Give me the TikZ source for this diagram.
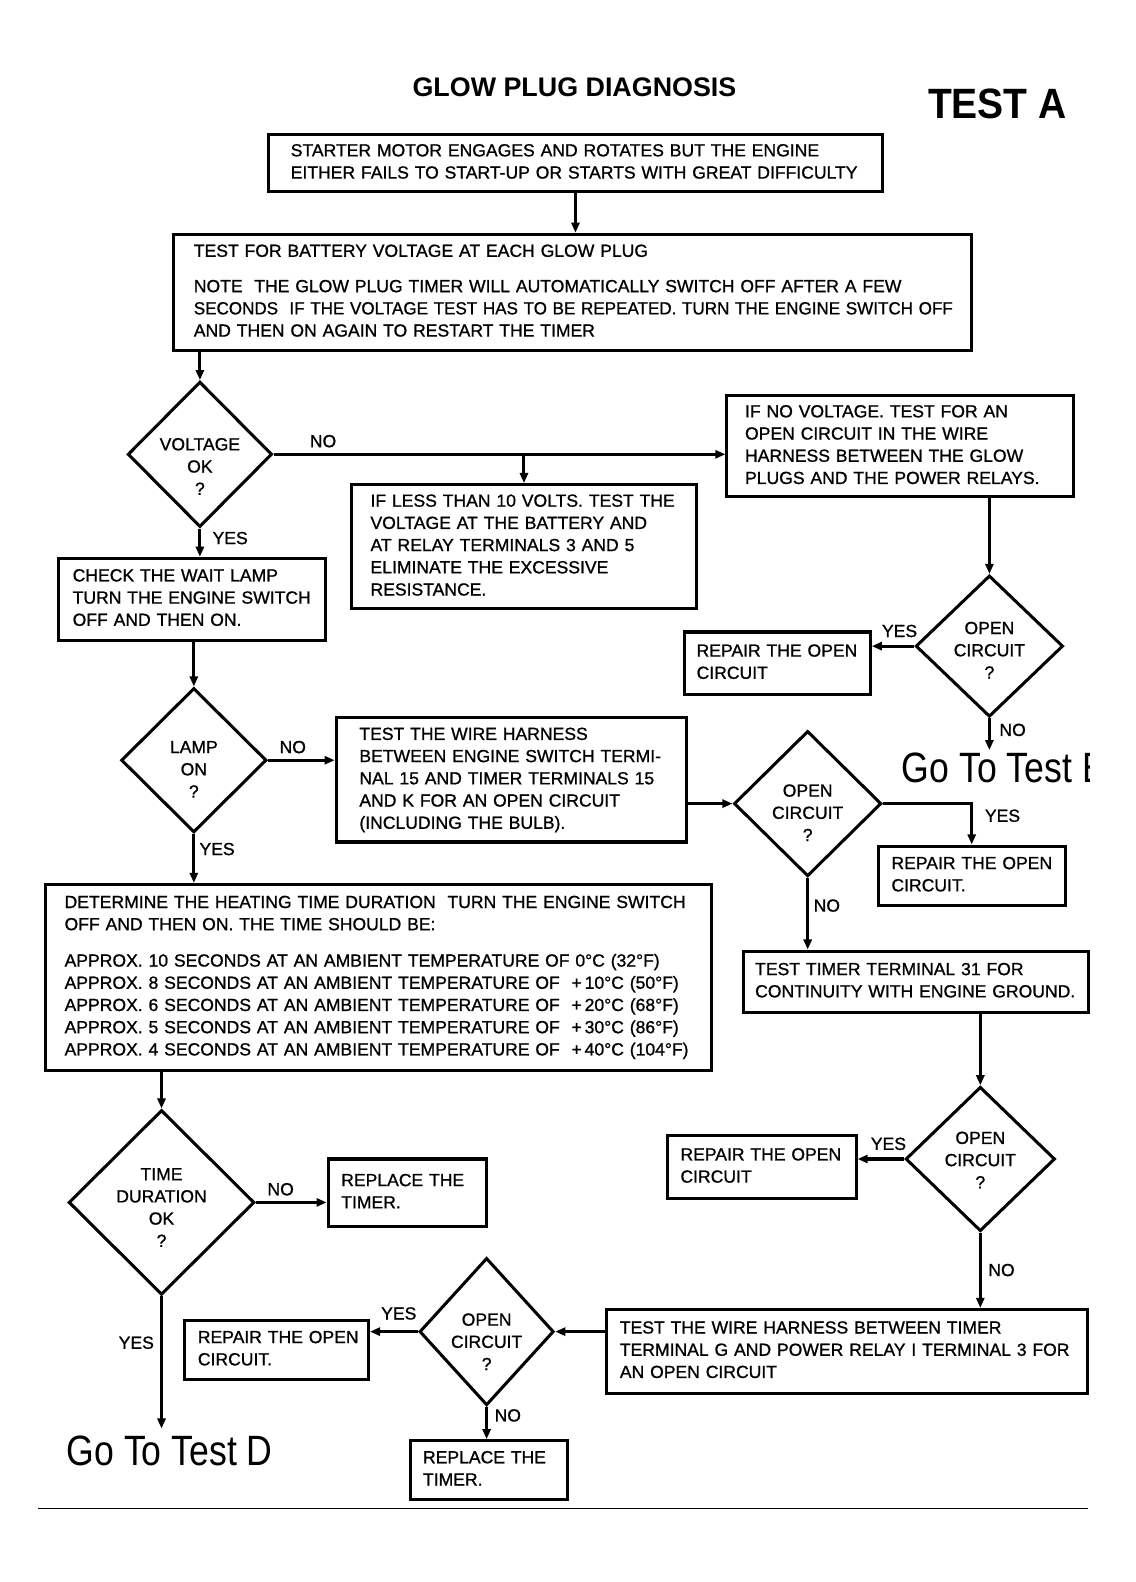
\documentclass[tikz,border=0pt]{standalone}
\usepackage{fontspec}
\setmainfont{Liberation Sans}
\newfontfamily\bodyfont[FakeBold=1]{Liberation Sans}
\usepackage{graphicx}
\usetikzlibrary{shapes.geometric,arrows.meta}
\newcommand{\txtfont}{\bodyfont\fontsize{8.7}{11}\selectfont}
\newcommand{\sqz}[1]{\scalebox{0.97}[1]{#1}}
\newcommand{\tl}[1]{\begin{tabular}{@{}l@{}}#1\end{tabular}}
\begin{document}
\begin{tikzpicture}[x=0.5pt,y=-0.5pt,
  box/.style={draw, line width=1.5pt, rectangle, align=left, inner ysep=0pt, font=\txtfont},
  dia/.style={draw, diamond, line width=1.5pt, inner sep=0pt},
  dlbl/.style={font=\txtfont, align=center, inner sep=0pt},
  arr/.style={line width=1.5pt, -{Triangle[length=5pt,width=4pt]}},
  lbl/.style={font=\txtfont, inner sep=0pt},
  goto/.style={font=\fontsize{21}{24}\selectfont, inner sep=0pt}]

% titles
\node[font=\bfseries\fontsize{13.3}{15}\selectfont, inner sep=0pt] (title) at (569,86) {GLOW PLUG DIAGNOSIS};
\node[font=\bfseries\fontsize{21}{24}\selectfont, inner sep=0pt] (testa) at (988,103) {\scalebox{0.92}[1]{TEST A}};

% boxes
\node[box, text width=282pt, inner xsep=11pt, minimum height=28.5pt] (b1) at (570,161.5)
 {\tl{STARTER MOTOR ENGAGES AND ROTATES BUT THE ENGINE\\EITHER FAILS TO START-UP OR STARTS WITH GREAT DIFFICULTY}};
\node[box, text width=375pt, inner xsep=10pt, minimum height=57.5pt] (b2) at (567,289.5)
 {\tl{TEST FOR BATTERY VOLTAGE AT EACH GLOW PLUG\\[6.5pt]
  NOTE\ \ THE GLOW PLUG TIMER WILL AUTOMATICALLY SWITCH OFF AFTER A FEW\\
  \sqz{SECONDS\ \ IF THE VOLTAGE TEST HAS TO BE REPEATED. TURN THE ENGINE SWITCH OFF}\\
  AND THEN ON AGAIN TO RESTART THE TIMER}};
\node[box, text width=153.5pt, inner xsep=9pt, minimum height=50pt] (ifno) at (891.5,442)
 {\tl{IF NO VOLTAGE. TEST FOR AN\\OPEN CIRCUIT IN THE WIRE\\HARNESS BETWEEN THE GLOW\\PLUGS AND THE POWER RELAYS.}};
\node[box, text width=152pt, inner xsep=9.5pt, minimum height=61.5pt] (ifless) at (519,541.5)
 {\tl{IF LESS THAN 10 VOLTS. TEST THE\\VOLTAGE AT THE BATTERY AND\\AT RELAY TERMINALS 3 AND 5\\ELIMINATE THE EXCESSIVE\\RESISTANCE.}};
\node[box, text width=118pt, inner xsep=7pt, minimum height=40.5pt] (check) at (190,593.5)
 {\tl{CHECK THE WAIT LAMP\\TURN THE ENGINE SWITCH\\OFF AND THEN ON.}};
\node[box, text width=80pt, inner xsep=6pt, minimum height=31pt] (rep1) at (770,657)
 {\tl{REPAIR THE OPEN\\CIRCUIT}};
\node[box, text width=150.5pt, inner xsep=11.5pt, minimum height=61.5pt] (wire1) at (506.5,772.5)
 {\tl{TEST THE WIRE HARNESS\\BETWEEN ENGINE SWITCH TERMI-\\NAL 15 AND TIMER TERMINALS 15\\AND K FOR AN OPEN CIRCUIT\\(INCLUDING THE BULB).}};
\node[box, text width=79.5pt, inner xsep=6.5pt, minimum height=29.5pt] (rep2) at (962.5,867.5)
 {\tl{REPAIR THE OPEN\\CIRCUIT.}};
\node[box, text width=159pt, inner xsep=6pt, minimum height=30.5pt] (t31) at (907,972.5)
 {\tl{TEST TIMER TERMINAL 31 FOR\\CONTINUITY WITH ENGINE GROUND.}};
\node[box, text width=311pt, inner xsep=9.5pt, minimum height=92pt] (det) at (375,968)
 {\tl{DETERMINE THE HEATING TIME DURATION\ \ TURN THE ENGINE SWITCH\\
  OFF AND THEN ON. THE TIME SHOULD BE:\\[7pt]
  APPROX. 10 SECONDS AT AN AMBIENT TEMPERATURE OF 0\textdegree C (32\textdegree F)\\
  APPROX. 8 SECONDS AT AN AMBIENT TEMPERATURE OF\ \ +\,10\textdegree C (50\textdegree F)\\
  APPROX. 6 SECONDS AT AN AMBIENT TEMPERATURE OF\ \ +\,20\textdegree C (68\textdegree F)\\
  APPROX. 5 SECONDS AT AN AMBIENT TEMPERATURE OF\ \ +\,30\textdegree C (86\textdegree F)\\
  APPROX. 4 SECONDS AT AN AMBIENT TEMPERATURE OF\ \ +\,40\textdegree C (104\textdegree F)}};
\node[box, text width=65.5pt, inner xsep=6.5pt, minimum height=33.5pt] (repl1) at (403.5,1181.5)
 {\tl{REPLACE THE\\TIMER.}};
\node[box, text width=80.5pt, inner xsep=6.5pt, minimum height=31pt] (rep3) at (754.5,1156)
 {\tl{REPAIR THE OPEN\\CIRCUIT}};
\node[box, text width=225pt, inner xsep=6.5pt, minimum height=41.5pt] (wireg) at (839,1338.5)
 {\tl{TEST THE WIRE HARNESS BETWEEN TIMER\\TERMINAL G AND POWER RELAY I TERMINAL 3 FOR\\AN OPEN CIRCUIT}};
\node[box, text width=78pt, inner xsep=6.5pt, minimum height=29pt] (rep4) at (274,1337)
 {\tl{REPAIR THE OPEN\\CIRCUIT.}};
\node[box, text width=65.5pt, inner xsep=6pt, minimum height=29pt] (repl2) at (484.5,1456)
 {\tl{REPLACE THE\\TIMER.}};

% diamonds
\node[dia, minimum width=71.5pt, minimum height=72pt, label={[dlbl, yshift=-6pt]center:VOLTAGE\\OK\\?}] (d1) at (198,450) {};
\node[dia, minimum width=72pt, minimum height=71.5pt, label={[dlbl, yshift=-4.5pt]center:LAMP\\ON\\?}] (d2) at (192,753) {};
\node[dia, minimum width=73pt, minimum height=70pt, label={[dlbl, yshift=-2pt]center:OPEN\\CIRCUIT\\?}] (d3) at (980,640) {};
\node[dia, minimum width=73pt, minimum height=72pt, label={[dlbl, yshift=-4.5pt]center:OPEN\\CIRCUIT\\?}] (d4) at (800,796) {};
\node[dia, minimum width=92pt, minimum height=91.5pt, label={[dlbl, yshift=-2.5pt]center:TIME\\DURATION\\OK\\?}] (d5) at (160,1191) {};
\node[dia, minimum width=74pt, minimum height=71.5pt, label={[dlbl, yshift=-0.5pt]center:OPEN\\CIRCUIT\\?}] (d6) at (971,1148) {};
\node[dia, minimum width=66.5pt, minimum height=73pt, label={[dlbl, yshift=-5pt]center:OPEN\\CIRCUIT\\?}] (d7) at (482,1319) {};

% free ends and go-to texts
\coordinate (endE) at (980,743);
\coordinate (endD) at (160,1415);
\begin{scope}
\clip (880,730) rectangle (1079,800);
\node[goto, anchor=west] (gotoE) at (893,761) {\scalebox{0.84}[1]{Go To Test E}};
\end{scope}
\node[goto] (gotoD) at (168,1437) {\scalebox{0.84}[1]{Go To Test D}};

% connectors
\draw[arr] (b1.south) -- (b1.south |- b2.north);
\draw[arr] (d1.north |- b2.south) -- (d1.north);
\draw[arr] (d1.east) -- (d1.east -| ifno.west);
\draw[arr] (ifless.north |- d1.east) -- (ifless.north);
\draw[arr] (d1.south) -- (d1.south |- check.north);
\draw[arr] (d2.north |- check.south) -- (d2.north);
\draw[arr] (d3.north |- ifno.south) -- (d3.north);
\draw[arr] (d3.west) -- (d3.west -| rep1.east);
\draw[arr] (d3.south) -- (endE);
\draw[arr] (d2.east) -- (d2.east -| wire1.west);
\draw[arr] (d4.west -| wire1.east) -- (d4.west);
\draw[arr] (d4.east) -| (rep2.north);
\draw[arr] (d4.south) -- (d4.south |- t31.north);
\draw[arr] (d2.south) -- (d2.south |- det.north);
\draw[arr] (d5.north |- det.south) -- (d5.north);
\draw[arr] (d5.east) -- (d5.east -| repl1.west);
\draw[arr] (d5.south) -- (endD);
\draw[arr] (d6.north |- t31.south) -- (d6.north);
\draw[arr] (d6.west) -- (d6.west -| rep3.east);
\draw[arr] (d6.south) -- (d6.south |- wireg.north);
\draw[arr] (d7.east -| wireg.west) -- (d7.east);
\draw[arr] (d7.west) -- (d7.west -| rep4.east);
\draw[arr] (d7.south) -- (d7.south |- repl2.north);

% labels
\node[lbl] (l1) at (320,437) {NO};
\node[lbl] (l2) at (228,533) {YES};
\node[lbl] (l3) at (290,740) {NO};
\node[lbl] (l4) at (215,841) {YES};
\node[lbl] (l5) at (891,625) {YES};
\node[lbl] (l6) at (1003,723) {NO};
\node[lbl] (l7) at (993,808) {YES};
\node[lbl] (l8) at (819,897) {NO};
\node[lbl] (l9) at (278,1178) {NO};
\node[lbl] (l10) at (135,1330) {YES};
\node[lbl] (l11) at (880,1133) {YES};
\node[lbl] (l12) at (992,1258) {NO};
\node[lbl] (l13) at (395,1301) {YES};
\node[lbl] (l14) at (503,1402) {NO};

% bottom rule
\coordinate (r1) at (38,1494);
\coordinate (r2) at (1078,1494);
\draw[line width=0.8pt] (r1) -- (r2);
\pgfresetboundingbox
\useasboundingbox (0,0) rectangle (1125,1567);
\end{tikzpicture}
\end{document}
